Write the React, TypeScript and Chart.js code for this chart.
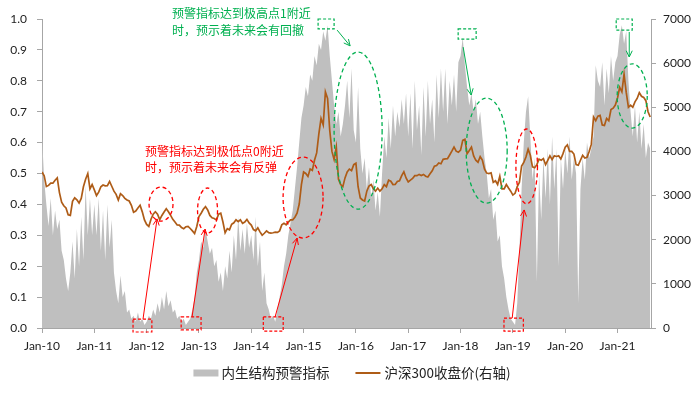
import React, { useEffect, useRef } from 'react';
import { Chart, registerables } from 'chart.js';
Chart.register(...registerables);

// ---------- data (semi-monthly samples, starting Jan 2010) ----------
const START_YEAR = 2010;
const STEPS_PER_YEAR = 24;
const X_MAX = 2021.64;
const xTickYears = [2010, 2011, 2012, 2013, 2014, 2015, 2016, 2017, 2018, 2019, 2020, 2021];
const leftTicks = [0, 0.1, 0.2, 0.3, 0.4, 0.5, 0.6, 0.7, 0.8, 0.9, 1.0];
const rightTicks = [0, 1000, 2000, 3000, 4000, 5000, 6000, 7000];

const seriesNames = ['内生结构预警指标', '沪深300收盘价(右轴)'];

const ind2010 = [0.62, 0.48, 0.40, 0.33, 0.42, 0.30, 0.38, 0.32, 0.35, 0.25, 0.22, 0.16, 0.12, 0.18, 0.28, 0.16, 0.32, 0.20, 0.36, 0.22, 0.46, 0.30, 0.42, 0.30];
const ind2011 = [0.40, 0.30, 0.42, 0.25, 0.38, 0.22, 0.40, 0.26, 0.35, 0.18, 0.12, 0.08, 0.17, 0.10, 0.12, 0.05, 0.06, 0.03, 0.04, 0.02, 0.05, 0.02, 0.03, 0.01];
const ind2012 = [0.02, 0.04, 0.03, 0.06, 0.04, 0.08, 0.05, 0.10, 0.06, 0.12, 0.07, 0.09, 0.05, 0.06, 0.03, 0.04, 0.02, 0.03, 0.01, 0.02, 0.03, 0.06, 0.10, 0.18];
const ind2013 = [0.22, 0.28, 0.26, 0.32, 0.28, 0.24, 0.26, 0.20, 0.22, 0.15, 0.18, 0.12, 0.20, 0.16, 0.25, 0.18, 0.30, 0.22, 0.36, 0.25, 0.32, 0.24, 0.34, 0.26];
const ind2014 = [0.30, 0.22, 0.36, 0.20, 0.28, 0.12, 0.18, 0.08, 0.06, 0.03, 0.04, 0.02, 0.06, 0.10, 0.14, 0.20, 0.24, 0.30, 0.34, 0.38, 0.45, 0.52, 0.60, 0.68];
const ind2015 = [0.72, 0.78, 0.75, 0.82, 0.80, 0.88, 0.85, 0.92, 0.90, 0.96, 0.93, 0.98, 0.88, 0.80, 0.72, 0.66, 0.70, 0.62, 0.66, 0.72, 0.80, 0.68, 0.84, 0.64];
const ind2016 = [0.60, 0.78, 0.58, 0.50, 0.55, 0.45, 0.52, 0.42, 0.48, 0.38, 0.44, 0.36, 0.50, 0.62, 0.55, 0.68, 0.58, 0.72, 0.62, 0.70, 0.65, 0.74, 0.66, 0.76];
const ind2017 = [0.62, 0.76, 0.58, 0.80, 0.64, 0.72, 0.56, 0.78, 0.62, 0.80, 0.66, 0.74, 0.60, 0.82, 0.68, 0.84, 0.70, 0.84, 0.66, 0.80, 0.72, 0.82, 0.70, 0.86];
const ind2018 = [0.88, 0.94, 0.85, 0.78, 0.72, 0.76, 0.70, 0.74, 0.66, 0.70, 0.62, 0.55, 0.50, 0.42, 0.45, 0.35, 0.38, 0.28, 0.30, 0.20, 0.16, 0.10, 0.06, 0.03];
const ind2019 = [0.02, 0.01, 0.08, 0.25, 0.45, 0.60, 0.70, 0.75, 0.62, 0.48, 0.55, 0.15, 0.50, 0.35, 0.55, 0.42, 0.58, 0.40, 0.62, 0.45, 0.58, 0.20, 0.55, 0.45];
const ind2020 = [0.58, 0.50, 0.62, 0.48, 0.55, 0.50, 0.08, 0.45, 0.55, 0.48, 0.60, 0.55, 0.58, 0.62, 0.85, 0.80, 0.78, 0.86, 0.72, 0.84, 0.76, 0.88, 0.80, 0.86];
const ind2021 = [0.88, 0.95, 0.98, 0.92, 0.96, 0.80, 0.70, 0.62, 0.72, 0.60, 0.70, 0.58, 0.66, 0.55, 0.60, 0.58];

const csi2010 = [3535, 3450, 3204, 3230, 3281, 3280, 3346, 3400, 3068, 2850, 2768, 2720, 2563, 2550, 2868, 2950, 2903, 2830, 2935, 3200, 3372, 3500, 3150, 3250];
const csi2011 = [3128, 3000, 3077, 3200, 3239, 3220, 3223, 3320, 3211, 3100, 3027, 2900, 3044, 3000, 2938, 2900, 2877, 2780, 2623, 2650, 2717, 2780, 2631, 2450];
const csi2012 = [2346, 2300, 2465, 2580, 2634, 2580, 2455, 2550, 2627, 2700, 2633, 2550, 2462, 2400, 2333, 2330, 2277, 2250, 2293, 2300, 2254, 2200, 2139, 2300];
const csi2013 = [2523, 2600, 2688, 2750, 2673, 2550, 2495, 2480, 2448, 2580, 2602, 2400, 2156, 2250, 2223, 2350, 2384, 2450, 2409, 2450, 2370, 2400, 2461, 2380];
const csi2014 = [2331, 2230, 2202, 2270, 2178, 2100, 2146, 2200, 2159, 2150, 2158, 2170, 2165, 2200, 2337, 2370, 2338, 2400, 2450, 2450, 2509, 2600, 2808, 3250];
const csi2015 = [3533, 3500, 3434, 3600, 3572, 3800, 3966, 4400, 4749, 4600, 5350, 5200, 4473, 4000, 3816, 4100, 3367, 3250, 3203, 3400, 3534, 3600, 3566, 3700];
const csi2016 = [3731, 3200, 2946, 2900, 2877, 3100, 3218, 3250, 3156, 3100, 3169, 3100, 3154, 3250, 3203, 3350, 3326, 3250, 3253, 3320, 3336, 3450, 3538, 3400];
const csi2017 = [3310, 3350, 3387, 3450, 3452, 3480, 3456, 3480, 3439, 3420, 3492, 3560, 3666, 3680, 3737, 3720, 3822, 3830, 3837, 3920, 4006, 4100, 4006, 3980];
const csi2018 = [4030, 4250, 4275, 3950, 4023, 4100, 3899, 3800, 3756, 3880, 3802, 3600, 3510, 3500, 3517, 3300, 3335, 3250, 3438, 3150, 3153, 3250, 3173, 3100];
const csi2019 = [3011, 3050, 3202, 3300, 3670, 3750, 3872, 4050, 3913, 3650, 3630, 3700, 3826, 3800, 3836, 3700, 3799, 3900, 3814, 3900, 3886, 3900, 3828, 3950];
const csi2020 = [4097, 4150, 3999, 4000, 3940, 3700, 3686, 3800, 3912, 3850, 3867, 4000, 4164, 4780, 4696, 4800, 4816, 4600, 4587, 4750, 4695, 4950, 4980, 5050];
const csi2021 = [5211, 5450, 5351, 5750, 5336, 5000, 5048, 5000, 5123, 5200, 5331, 5250, 5224, 5150, 4900, 4780];

const indicator = [...ind2010, ...ind2011, ...ind2012, ...ind2013, ...ind2014, ...ind2015, ...ind2016, ...ind2017, ...ind2018, ...ind2019, ...ind2020, ...ind2021];
const csi300 = [...csi2010, ...csi2011, ...csi2012, ...csi2013, ...csi2014, ...csi2015, ...csi2016, ...csi2017, ...csi2018, ...csi2019, ...csi2020, ...csi2021];

// ---------- annotations (in data units: x = year, y = left-axis value) ----------
const RED = '#FF0000';
const GREEN = '#00B050';
const redRects = [
  [2011.74, 2012.10, -0.013, 0.029],
  [2012.66, 2013.04, -0.006, 0.036],
  [2014.23, 2014.61, -0.010, 0.036],
  [2018.83, 2019.20, -0.010, 0.032],
];
const redEllipses = [
  [2012.275, 0.401, 0.229, 0.055],
  [2013.164, 0.380, 0.191, 0.073],
  [2014.990, 0.422, 0.382, 0.131],
  [2019.264, 0.523, 0.206, 0.121],
];
const redArrows = [
  [2011.931, 0.029, 2012.199, 0.353],
  [2012.868, 0.036, 2013.117, 0.320],
  [2014.455, 0.036, 2014.876, 0.291],
  [2018.987, 0.032, 2019.216, 0.382],
];
const greenRects = [
  [2015.277, 2015.583, 0.968, 1.0],
  [2017.954, 2018.298, 0.935, 0.968],
  [2020.975, 2021.281, 0.964, 1.0],
];
const greenEllipses = [
  [2016.042, 0.639, 0.459, 0.254],
  [2018.499, 0.574, 0.392, 0.170],
  [2021.281, 0.751, 0.287, 0.104],
];
const greenArrows = [
  [2015.641, 0.964, 2015.889, 0.913],
  [2018.050, 0.909, 2018.203, 0.754],
  [2021.224, 0.958, 2021.224, 0.877],
];
const greenText = ['预警指标达到极高点1附近', '时，预示着未来会有回撤'];
const greenTextPos = [2012.486, 1.0194, 0.964];
const redText = ['预警指标达到极低点0附近', '时，预示着未来会有反弹'];
const redTextPos = [2011.969, 0.570, 0.521];

const GRAY = '#BFBFBF';
const BROWN = '#AE5C17';
const AXIS = '#A6A6A6';
const LATIN = 'Lato, "Noto Sans CJK SC", sans-serif';
const CJK = '"Noto Sans CJK SC", Lato, sans-serif';

const annotationPlugin = {
  id: 'annotations',
  afterDatasetsDraw(chart: any) {
    const ctx = chart.ctx;
    const xs = chart.scales.x;
    const ys = chart.scales.y;
    const px = (t: number) => xs.getPixelForValue(t);
    const py = (v: number) => ys.getPixelForValue(v);
    ctx.save();
    const rect = (r: number[], color: string) => {
      ctx.strokeStyle = color;
      ctx.lineWidth = 1.2;
      ctx.setLineDash([3, 2]);
      const x0 = px(r[0]), x1 = px(r[1]), y0 = py(r[3]), y1 = py(r[2]);
      ctx.strokeRect(x0, y0, x1 - x0, y1 - y0);
    };
    const ellipse = (e: number[], color: string) => {
      ctx.strokeStyle = color;
      ctx.lineWidth = 1.3;
      ctx.setLineDash([4, 3]);
      const cx = px(e[0]), cy = py(e[1]);
      const rx = px(e[0] + e[2]) - cx, ry = cy - py(e[1] + e[3]);
      ctx.beginPath();
      ctx.ellipse(cx, cy, rx, ry, 0, 0, Math.PI * 2);
      ctx.stroke();
    };
    const arrow = (a: number[], color: string) => {
      ctx.strokeStyle = color;
      ctx.lineWidth = 1;
      ctx.setLineDash([]);
      const x0 = px(a[0]), y0 = py(a[1]), x1 = px(a[2]), y1 = py(a[3]);
      ctx.beginPath();
      ctx.moveTo(x0, y0);
      ctx.lineTo(x1, y1);
      ctx.stroke();
      const ang = Math.atan2(y1 - y0, x1 - x0);
      const L = 7, w = 0.45;
      ctx.beginPath();
      ctx.moveTo(x1 - L * Math.cos(ang - w), y1 - L * Math.sin(ang - w));
      ctx.lineTo(x1, y1);
      ctx.lineTo(x1 - L * Math.cos(ang + w), y1 - L * Math.sin(ang + w));
      ctx.stroke();
    };
    redRects.forEach(r => rect(r, RED));
    redEllipses.forEach(e => ellipse(e, RED));
    redArrows.forEach(a => arrow(a, RED));
    greenRects.forEach(r => rect(r, GREEN));
    greenEllipses.forEach(e => ellipse(e, GREEN));
    greenArrows.forEach(a => arrow(a, GREEN));

    ctx.font = `12px ${CJK}`;
    ctx.textBaseline = 'middle';
    ctx.textAlign = 'left';
    ctx.fillStyle = GREEN;
    ctx.fillText(greenText[0], px(greenTextPos[0]), py(greenTextPos[1]));
    ctx.fillText(greenText[1], px(greenTextPos[0]), py(greenTextPos[2]));
    ctx.fillStyle = RED;
    ctx.fillText(redText[0], px(redTextPos[0]), py(redTextPos[1]));
    ctx.fillText(redText[1], px(redTextPos[0]), py(redTextPos[2]));
    ctx.restore();
  },
  afterDraw(chart: any) {
    // legend
    const ctx = chart.ctx;
    ctx.save();
    ctx.font = `13.5px ${CJK}`;
    ctx.textBaseline = 'middle';
    const w1 = ctx.measureText(seriesNames[0]).width;
    const w2 = ctx.measureText(seriesNames[1]).width;
    const total = 25 + 3 + w1 + 26 + 25 + 4 + w2;
    let x = chart.width / 2 + 2 - total / 2;
    const y = 373;
    ctx.fillStyle = GRAY;
    ctx.fillRect(x, y - 3.5, 25, 7);
    x += 28;
    ctx.fillStyle = '#222';
    ctx.fillText(seriesNames[0], x, y);
    x += w1 + 26;
    ctx.strokeStyle = BROWN;
    ctx.lineWidth = 2;
    ctx.beginPath();
    ctx.moveTo(x, y);
    ctx.lineTo(x + 25, y);
    ctx.stroke();
    x += 29;
    ctx.fillText(seriesNames[1], x, y);
    ctx.restore();
  },
};

export default function App() {
  const ref = useRef<HTMLCanvasElement | null>(null);
  useEffect(() => {
    document.body.style.margin = '0';
    const canvas = ref.current;
    if (!canvas) return;
    const xOf = (i: number) => START_YEAR + i / STEPS_PER_YEAR;
    const chart = new Chart(canvas, {
      type: 'line',
      data: {
        datasets: [
          {
            label: seriesNames[1],
            data: csi300.map((v, i) => ({ x: xOf(i), y: v })),
            yAxisID: 'y2',
            borderColor: BROWN,
            borderWidth: 1.7,
            pointRadius: 0,
            tension: 0,
            fill: false,
            order: 0,
          },
          {
            label: seriesNames[0],
            data: indicator.map((v, i) => ({ x: xOf(i), y: v })),
            yAxisID: 'y',
            borderColor: GRAY,
            backgroundColor: GRAY,
            borderWidth: 0,
            pointRadius: 0,
            tension: 0,
            fill: 'origin',
            order: 1,
          },
        ],
      },
      options: {
        animation: false,
        responsive: false,
        devicePixelRatio: 1,
        layout: { padding: { top: 19, left: 0, right: 0, bottom: 0 } },
        plugins: { legend: { display: false }, tooltip: { enabled: false } },
        scales: {
          x: {
            type: 'linear',
            min: START_YEAR,
            max: X_MAX,
            afterBuildTicks: (s: any) => { s.ticks = xTickYears.map(v => ({ value: v })); },
            ticks: {
              callback: (v: any) => 'Jan-' + String(v).slice(2),
              font: { family: LATIN, size: 12 },
              color: '#222',
              padding: 6,
              maxRotation: 0,
              autoSkip: false,
            },
            grid: { drawOnChartArea: false, drawTicks: true, tickLength: 5, color: AXIS },
            border: { color: AXIS, width: 1 },
            afterFit: (s: any) => { s.height = 65; },
          },
          y: {
            position: 'left',
            min: 0,
            max: 1,
            afterBuildTicks: (s: any) => { s.ticks = leftTicks.map(v => ({ value: v })); },
            ticks: {
              callback: (v: any) => Number(v).toFixed(1),
              font: { family: LATIN, size: 12 },
              color: '#222',
              padding: 10,
            },
            grid: { drawOnChartArea: false, drawTicks: true, tickLength: 5, color: AXIS },
            border: { color: AXIS, width: 1 },
            afterFit: (s: any) => { s.width = 42; },
          },
          y2: {
            position: 'right',
            min: 0,
            max: 7000,
            afterBuildTicks: (s: any) => { s.ticks = rightTicks.map(v => ({ value: v })); },
            ticks: {
              callback: (v: any) => String(v),
              font: { family: LATIN, size: 12 },
              color: '#222',
              padding: 7,
            },
            grid: { drawOnChartArea: false, drawTicks: true, tickLength: 5, color: AXIS },
            border: { color: AXIS, width: 1 },
            afterFit: (s: any) => { s.width = 49; },
          },
        },
      },
      plugins: [annotationPlugin],
    });
    return () => chart.destroy();
  }, []);
  return (
    <div style={{ position: 'fixed', left: 0, top: 0, width: 700, height: 393, background: '#fff' }}>
      <canvas ref={ref} width={700} height={393} />
    </div>
  );
}
